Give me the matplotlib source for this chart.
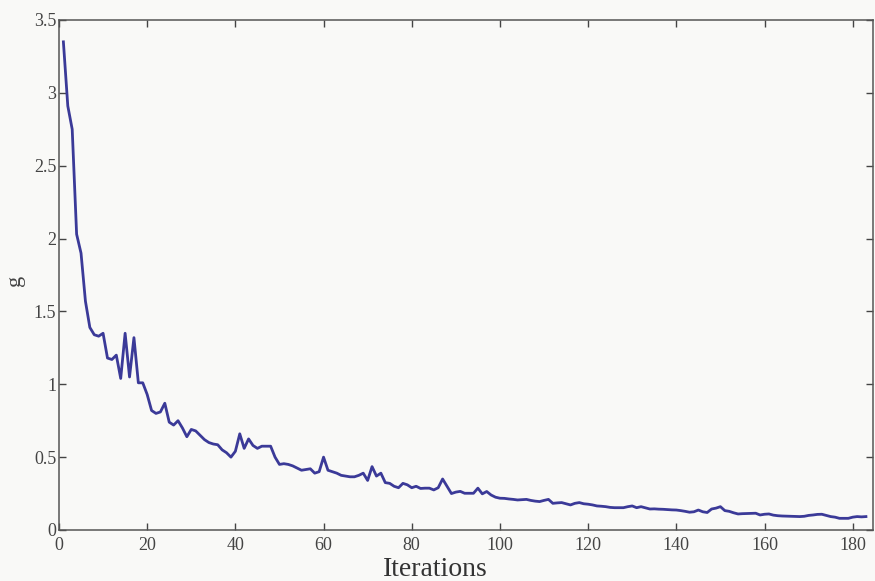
import matplotlib
matplotlib.use("Agg")
import matplotlib.pyplot as plt
import numpy as np

# values, one per iteration
g_first = [3.35, 2.91, 2.75, 2.03, 1.90, 1.57, 1.39, 1.34, 1.33, 1.35,
           1.18, 1.17, 1.20, 1.04, 1.35, 1.05, 1.32, 1.01, 1.01, 0.93,
           0.82, 0.80, 0.81, 0.87, 0.74, 0.72, 0.75, 0.70, 0.64, 0.69,
           0.68, 0.65, 0.62, 0.60, 0.59, 0.585, 0.55, 0.53, 0.50, 0.54,
           0.66, 0.56, 0.625, 0.58, 0.56, 0.575, 0.575, 0.575, 0.50, 0.45]
g_mid = [0.455, 0.45, 0.44, 0.425, 0.41, 0.415, 0.42, 0.39, 0.40, 0.50,
         0.41, 0.40, 0.39, 0.375, 0.37, 0.365, 0.365, 0.375, 0.39, 0.34,
         0.435, 0.37, 0.39, 0.325, 0.32, 0.30, 0.29, 0.32, 0.31, 0.29,
         0.30, 0.285, 0.287, 0.287, 0.275, 0.29, 0.35, 0.30, 0.25, 0.26,
         0.265, 0.252, 0.252, 0.252, 0.287, 0.248, 0.264, 0.24, 0.225, 0.218]
g_last = [0.217, 0.213, 0.21, 0.206, 0.208, 0.21, 0.203, 0.198, 0.195, 0.203,
          0.21, 0.183, 0.186, 0.188, 0.18, 0.172, 0.183, 0.188, 0.18, 0.177,
          0.172, 0.165, 0.163, 0.16, 0.155, 0.153, 0.153, 0.153, 0.16, 0.165,
          0.153, 0.16, 0.152, 0.144, 0.145, 0.143, 0.142, 0.14, 0.138, 0.137,
          0.133, 0.128, 0.122, 0.125, 0.137, 0.125, 0.12, 0.144, 0.15, 0.16,
          0.133, 0.128, 0.118, 0.11, 0.112, 0.113, 0.114, 0.115, 0.103, 0.108,
          0.11, 0.102, 0.098, 0.096, 0.095, 0.094, 0.093, 0.092, 0.094, 0.10,
          0.103, 0.107, 0.108, 0.10, 0.092, 0.088, 0.08, 0.08, 0.08, 0.088,
          0.092, 0.09, 0.092]
g = g_first + g_mid + g_last
iterations = np.arange(1, len(g) + 1)

xticks = [0, 20, 40, 60, 80, 100, 120, 140, 160, 180]
yticks = [0, 0.5, 1, 1.5, 2, 2.5, 3, 3.5]
ytick_labels = ["0", "0.5", "1", "1.5", "2", "2.5", "3", "3.5"]

plt.rcParams['font.family'] = ['Liberation Serif', 'DejaVu Serif']

fig = plt.figure(figsize=(8.75, 5.81), dpi=100, facecolor="#f9f9f7")
ax = fig.add_axes([0.0674, 0.0878, 0.9303, 0.8778])
ax.set_facecolor("#f9f9f7")

ax.plot(iterations, g, color="#3b3a98", lw=2.0)

ax.set_xlim(0, 184.6)
ax.set_ylim(0, 3.5)
ax.set_xticks(xticks)
ax.set_yticks(yticks)
ax.set_yticklabels(ytick_labels)

ax.tick_params(direction="in", top=True, right=True, length=5, width=1.0,
               color="#444444", labelsize=13, labelcolor="#444444")
ax.tick_params(axis="x", pad=5)
ax.tick_params(axis="y", pad=2)
for s in ax.spines.values():
    s.set_color("#555555")
    s.set_linewidth(1.1)

ax.set_xlabel("Iterations", fontsize=20, color="#333333")
ax.xaxis.set_label_coords(0.462, -0.052)
ax.set_ylabel("g", fontsize=16, color="#444444")
ax.yaxis.set_label_coords(-0.042, 0.49)

fig.savefig("out.png", dpi=100, facecolor=fig.get_facecolor())
